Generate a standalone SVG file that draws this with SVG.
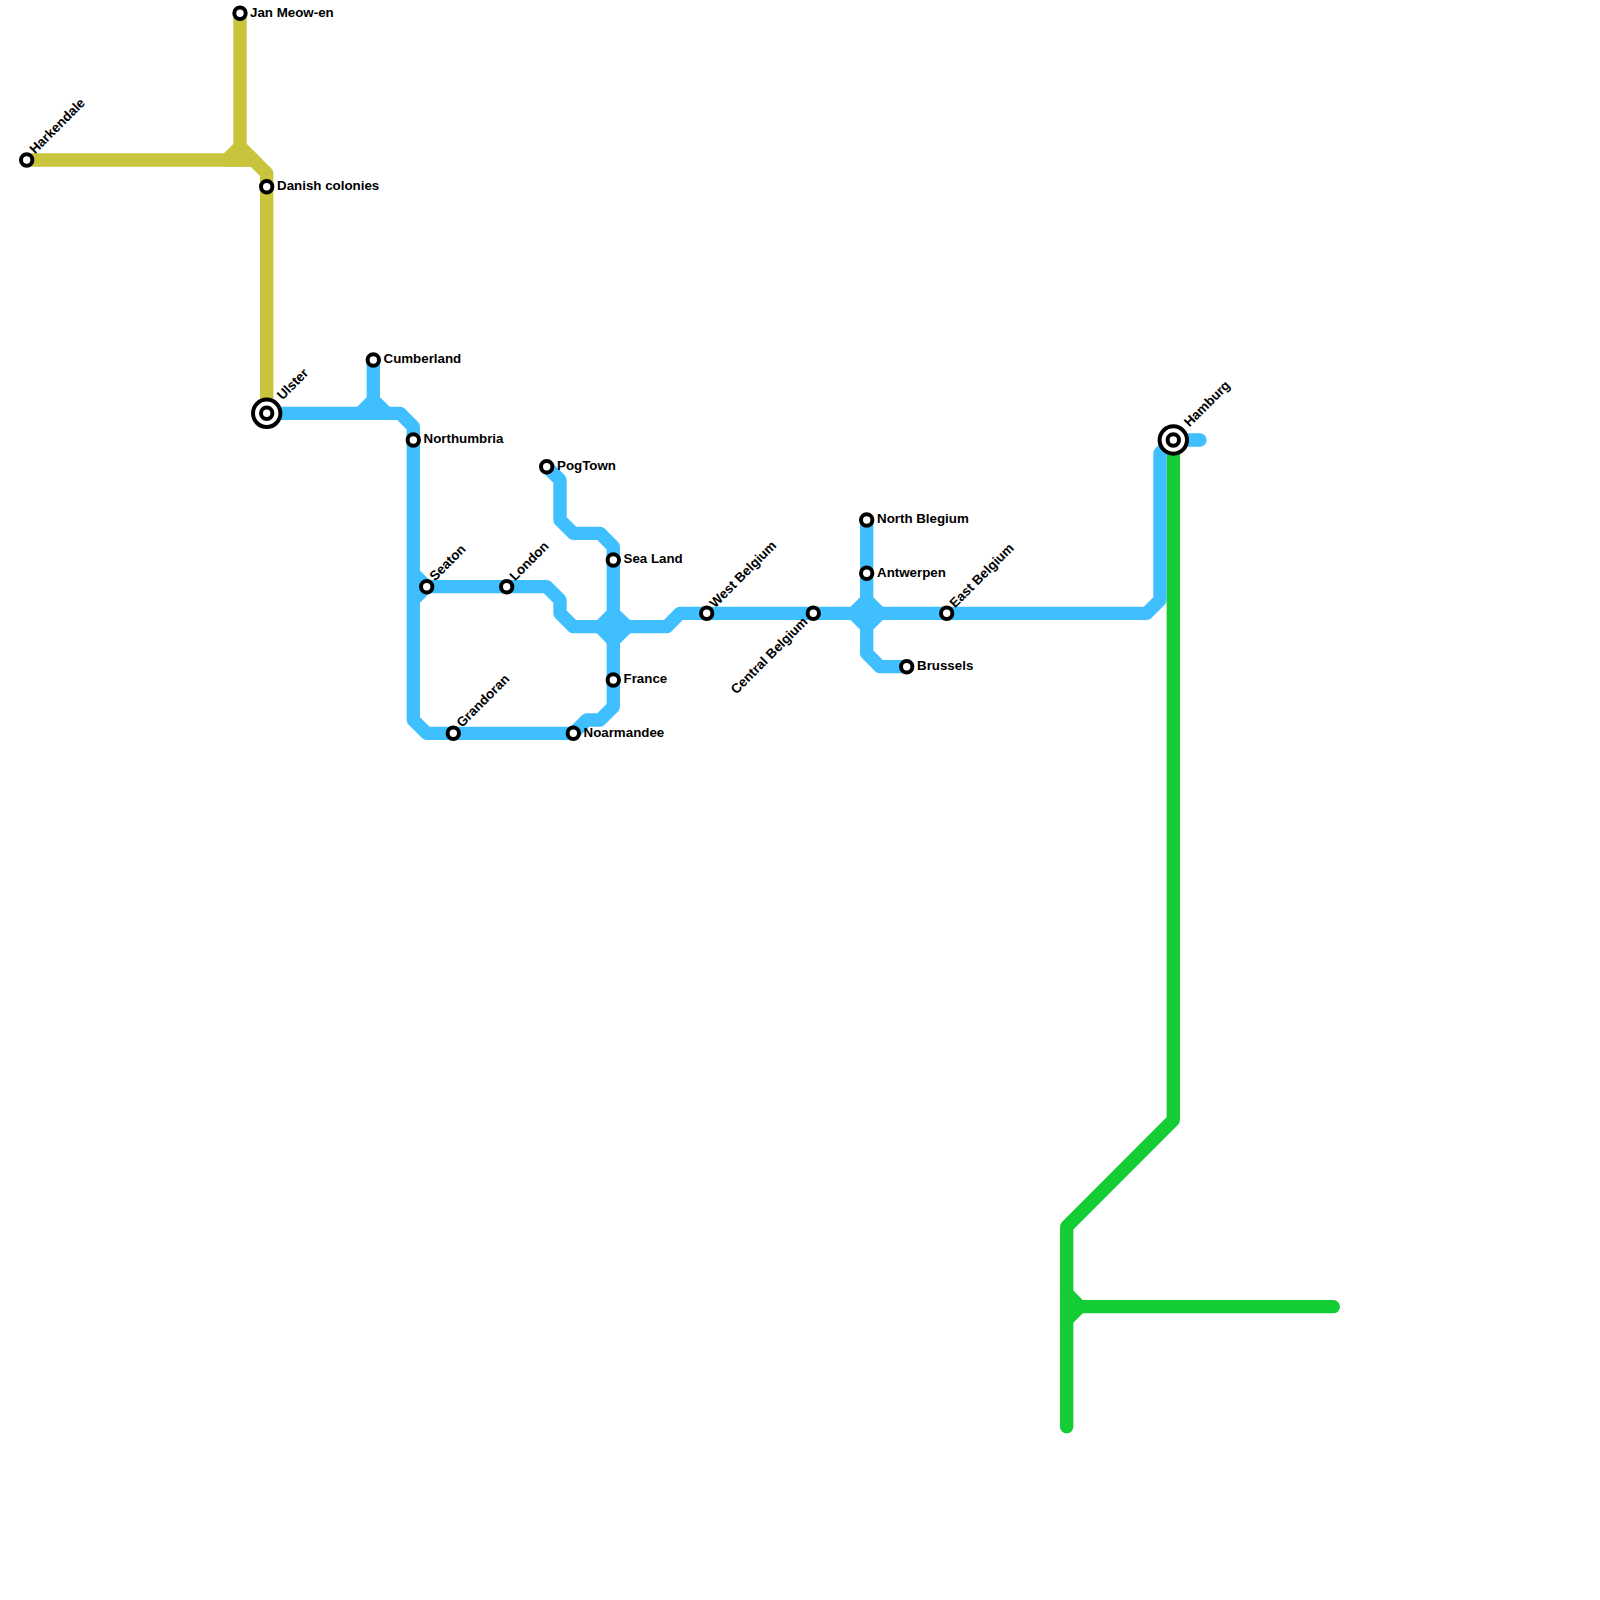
<svg xmlns="http://www.w3.org/2000/svg" width="1600" height="1600" viewBox="0 0 1600 1600">
<style>
.l{fill:none;stroke-width:13.33;stroke-linecap:round;stroke-linejoin:round}
.y{stroke:#c8c43c}.b{stroke:#40bfff}.g{stroke:#14cc33}
.yf{fill:#c8c43c}.bf{fill:#40bfff}.gf{fill:#14cc33}
.s{fill:#fff;stroke:#000;stroke-width:4}
text{font-family:"Liberation Sans",Arial,sans-serif;font-weight:700;font-size:13.33px;fill:#000}
</style>
<rect width="1600" height="1600" fill="#fff"/>
<g id="connectors">
<path class="l g" d="M1173.3 440V1120L1066.7 1226.7V1426.7"/>
<path class="l g" d="M1080 1306.7H1333.3"/>
<polygon class="gf" points="1073.3,1290.5 1089.4,1306.7 1073.3,1322.8 1060,1322.8 1060,1290.5"/>
<path class="l y" d="M26.7 160H250M240 13.3V146.7L266.7 173.3V413.3"/>
<polygon class="yf" points="224,153.3 233.3,144 246.7,144 262,159.3 255,166.67 224,166.67"/>
<path class="l b" d="M266.7 413.3H400L413.3 426.7V720L426.7 733.3H573.3L586.7 720H600L613.3 706.7V546.7L600 533.3H573.3L560 520V480L546.7 466.7"/>
<path class="l b" d="M373.3 360V400M426.7 586.7H546.7L560 600V613.3L573.3 626.7H666.7L680 613.3H1146.7L1160 600V453.3L1173.3 440H1200M866.7 520V653.3L880 666.7H906.7"/>
<polygon class="bf" points="357.2,406.67 366.67,397.2 380,397.2 389.8,406.67 389.8,420 357.2,420"/>
<polygon class="bf" points="420,570.6 436,586.7 420,602.8 410,602.8 410,570.6"/>
<polygon class="bf" points="606.7,610.6 620,610.6 630,620 630,633.4 620,643.4 606.7,643.4 597.2,633.4 597.2,620"/>
<polygon class="bf" points="860,597.2 873.3,597.2 882.8,606.7 882.8,620 873.3,629.5 860,629.5 850.6,620 850.6,606.7"/>
</g>
<g id="st-jan"><circle class="s" cx="240" cy="13.3" r="5.7"/><text x="250" y="17">Jan Meow-en</text></g>
<g id="st-harkendale"><circle class="s" cx="26.7" cy="160" r="5.7"/><text transform="translate(35 154.5) rotate(-45)">Harkendale</text></g>
<g id="st-danish"><circle class="s" cx="266.7" cy="186.7" r="5.7"/><text x="277" y="190">Danish colonies</text></g>
<g id="st-ulster"><circle class="s" cx="266.7" cy="413.3" r="13.7"/><circle class="s" cx="266.7" cy="413.3" r="5.7"/><text transform="translate(282.5 400.5) rotate(-45)">Ulster</text></g>
<g id="st-cumberland"><circle class="s" cx="373.3" cy="360" r="5.7"/><text x="383.5" y="363">Cumberland</text></g>
<g id="st-northumbria"><circle class="s" cx="413.3" cy="440" r="5.7"/><text x="423.5" y="443">Northumbria</text></g>
<g id="st-seaton"><circle class="s" cx="426.7" cy="586.7" r="5.7"/><text transform="translate(435 581.5) rotate(-45)">Seaton</text></g>
<g id="st-london"><circle class="s" cx="506.7" cy="586.7" r="5.7"/><text transform="translate(515 581.5) rotate(-45)">London</text></g>
<g id="st-grandoran"><circle class="s" cx="453.3" cy="733.3" r="5.7"/><text transform="translate(462 728) rotate(-45)">Grandoran</text></g>
<g id="st-noarmandee"><circle class="s" cx="573.3" cy="733.3" r="5.7"/><text x="583.5" y="737">Noarmandee</text></g>
<g id="st-pogtown"><circle class="s" cx="546.7" cy="466.7" r="5.7"/><text x="557" y="470">PogTown</text></g>
<g id="st-sealand"><circle class="s" cx="613.3" cy="560" r="5.7"/><text x="623.5" y="563">Sea Land</text></g>
<g id="st-france"><circle class="s" cx="613.3" cy="680" r="5.7"/><text x="623.5" y="683">France</text></g>
<g id="st-westbelgium"><circle class="s" cx="706.7" cy="613.3" r="5.7"/><text transform="translate(715 608.5) rotate(-45)">West Belgium</text></g>
<g id="st-centralbelgium"><circle class="s" cx="813.3" cy="613.3" r="5.7"/><text text-anchor="end" transform="translate(808.5 622.5) rotate(-45)">Central Belgium</text></g>
<g id="st-northblegium"><circle class="s" cx="866.7" cy="520" r="5.7"/><text x="877" y="523">North Blegium</text></g>
<g id="st-antwerpen"><circle class="s" cx="866.7" cy="573.3" r="5.7"/><text x="877" y="577">Antwerpen</text></g>
<g id="st-eastbelgium"><circle class="s" cx="946.7" cy="613.3" r="5.7"/><text transform="translate(955 608.5) rotate(-45)">East Belgium</text></g>
<g id="st-brussels"><circle class="s" cx="906.7" cy="666.7" r="5.7"/><text x="917" y="670">Brussels</text></g>
<g id="st-hamburg"><circle class="s" cx="1173.3" cy="440" r="13.7"/><circle class="s" cx="1173.3" cy="440" r="5.7"/><text transform="translate(1189.5 427.5) rotate(-45)">Hamburg</text></g>
</svg>
